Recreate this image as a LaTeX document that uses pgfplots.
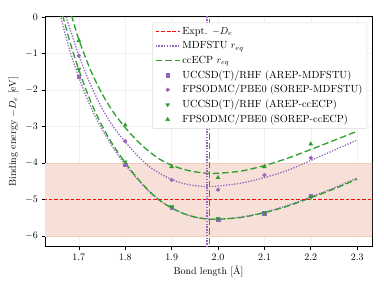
\documentclass[border=0pt]{standalone}
\usepackage{pgfplots}
\pgfplotsset{compat=1.18}
\definecolor{tpurple}{RGB}{148,103,189}
\definecolor{tgreen}{RGB}{44,160,44}
\definecolor{tred}{RGB}{250,10,10}
\definecolor{band}{RGB}{247,224,215}
\definecolor{bandedge}{RGB}{240,205,192}
\begin{document}
\begin{tikzpicture}
\begin{axis}[name=ax, scale only axis, width=327bp, height=230bp,
  xmin=1.627, xmax=2.332, ymin=-6.3, ymax=0,
  xtick={1.7,1.8,1.9,2.0,2.1,2.2,2.3},
  ytick={-6,-5,-4,-3,-2,-1,0},
  xticklabel style={/pgf/number format/fixed,/pgf/number format/precision=1,/pgf/number format/fixed zerofill},
  tick pos=left, tick align=outside, major tick length=3.5bp,
  tick style={black, line width=0.6bp},
  grid=major, major grid style={gray!12, line width=0.5bp},
  axis line style={line width=1bp},
  xlabel={Bond length [\AA]}, ylabel={Binding energy $-D_e$ [eV]},
  xlabel style={yshift=2bp},
  legend style={at={(0.985,0.975)}, anchor=north east, draw=gray!30, rounded corners=2bp,
    fill=white, text opacity=1, font=\fontsize{10.4}{12.5}\selectfont, row sep=1.6bp,
    inner sep=2.5bp},
  legend cell align=left,
  legend image code/.code={\draw[mark repeat=2,mark phase=2,#1] plot coordinates {(0bp,0bp) (12bp,0bp) (24bp,0bp)};},
]
% band
\addplot[draw=none, fill=band, forget plot] coordinates {(1.6,-6) (2.4,-6) (2.4,-4) (1.6,-4)} \closedcycle;
\addplot[draw=bandedge, line width=0.6bp, forget plot] coordinates {(1.6,-4) (2.4,-4)};
\addplot[draw=bandedge, line width=0.6bp, forget plot] coordinates {(1.6,-6) (2.4,-6)};
% fitted curves
\addplot[tpurple, line width=1.3bp, dash pattern=on 1.3bp off 1.5bp, smooth, forget plot] coordinates {
(1.655,0.35) (1.66,0.05) (1.68,-0.9) (1.70,-1.65) (1.725,-2.45) (1.75,-3.08) (1.775,-3.6) (1.80,-4.04)
(1.825,-4.42) (1.85,-4.76) (1.875,-5.03) (1.90,-5.23) (1.925,-5.38) (1.95,-5.48) (1.975,-5.53)
(2.0,-5.54) (2.05,-5.48) (2.1,-5.35) (2.15,-5.16) (2.2,-4.93) (2.25,-4.68) (2.3,-4.41)};
\addplot[tgreen, line width=1.3bp, dash pattern=on 6.5bp off 3bp, smooth, forget plot] coordinates {
(1.66,0.3) (1.665,0.05) (1.68,-0.65) (1.70,-1.45) (1.725,-2.3) (1.75,-2.98) (1.775,-3.53) (1.80,-3.99)
(1.825,-4.4) (1.85,-4.75) (1.875,-5.03) (1.90,-5.23) (1.925,-5.38) (1.95,-5.48) (1.975,-5.53)
(2.0,-5.54) (2.05,-5.49) (2.1,-5.36) (2.15,-5.18) (2.2,-4.95) (2.25,-4.71) (2.3,-4.44)};
\addplot[tpurple, line width=1.3bp, dash pattern=on 1.3bp off 1.5bp, smooth, forget plot] coordinates {
(1.667,0.3) (1.672,0.05) (1.68,-0.3) (1.70,-1.05) (1.725,-1.85) (1.75,-2.5) (1.775,-3.02) (1.80,-3.42)
(1.825,-3.78) (1.85,-4.08) (1.875,-4.29) (1.90,-4.45) (1.925,-4.56) (1.95,-4.62) (1.975,-4.645)
(2.0,-4.63) (2.05,-4.55) (2.1,-4.4) (2.15,-4.2) (2.2,-3.93) (2.25,-3.65) (2.3,-3.37)};
\addplot[tgreen, line width=1.3bp, dash pattern=on 6.5bp off 3bp, smooth, forget plot] coordinates {
(1.679,0.3) (1.684,0.05) (1.70,-0.62) (1.725,-1.45) (1.75,-2.1) (1.775,-2.62) (1.80,-3.03)
(1.825,-3.38) (1.85,-3.67) (1.875,-3.9) (1.90,-4.06) (1.925,-4.17) (1.95,-4.24) (1.975,-4.28)
(2.0,-4.28) (2.05,-4.22) (2.1,-4.07) (2.15,-3.87) (2.2,-3.63) (2.25,-3.38) (2.3,-3.13)};
% reference lines
\addplot[tred, line width=1.4bp, dash pattern=on 3.5bp off 2bp, forget plot] coordinates {(1.6,-5) (2.4,-5)};
\addplot[tpurple, line width=1.3bp, dash pattern=on 1.3bp off 1.5bp, forget plot] coordinates {(1.976,-7) (1.976,1)};
\addplot[tgreen, line width=1.4bp, dash pattern=on 6.5bp off 3bp, forget plot] coordinates {(1.982,-7) (1.982,1)};
\addlegendimage{tred, line width=1.4bp, dash pattern=on 3.5bp off 2bp}
\addlegendentry{Expt. $-D_e$}
\addlegendimage{tpurple, line width=1.3bp, dash pattern=on 1.3bp off 1.5bp}
\addlegendentry{MDFSTU $r_{eq}$}
\addlegendimage{tgreen, line width=1.4bp, dash pattern=on 6.5bp off 3bp}
\addlegendentry{ccECP $r_{eq}$}
% data points
\addplot[only marks, mark=square*, mark size=1.8bp, color=tpurple] coordinates {
(1.7,-1.63) (1.8,-4.05) (1.9,-5.22) (2.0,-5.55) (2.1,-5.38) (2.2,-4.9)};
\addlegendentry{UCCSD(T)/RHF (AREP-MDFSTU)}
\addplot[only marks, mark=*, mark size=1.9bp, color=tpurple] coordinates {
(1.7,-1.06) (1.8,-3.40) (1.9,-4.46) (2.0,-4.73) (2.1,-4.33) (2.2,-3.86)};
\addlegendentry{FPSODMC/PBE0 (SOREP-MDFSTU)}
\addplot[only marks, mark=triangle*, mark size=2.3bp, mark options={rotate=180}, color=tgreen] coordinates {
(1.7,-1.43) (1.8,-3.97) (1.9,-5.2) (2.0,-5.52) (2.1,-5.36) (2.2,-4.94)};
\addlegendentry{UCCSD(T)/RHF (AREP-ccECP)}
\addplot[only marks, mark=triangle*, mark size=2.3bp, color=tgreen] coordinates {
(1.7,-0.65) (1.8,-2.96) (1.9,-4.1) (2.0,-4.4) (2.1,-4.1) (2.2,-3.48)};
\addlegendentry{FPSODMC/PBE0 (SOREP-ccECP)}
\end{axis}
\pgfresetboundingbox
\path ([shift={(-45bp,-42bp)}]ax.south west) rectangle ([shift={(12bp,17bp)}]ax.north east);
\end{tikzpicture}
\end{document}
